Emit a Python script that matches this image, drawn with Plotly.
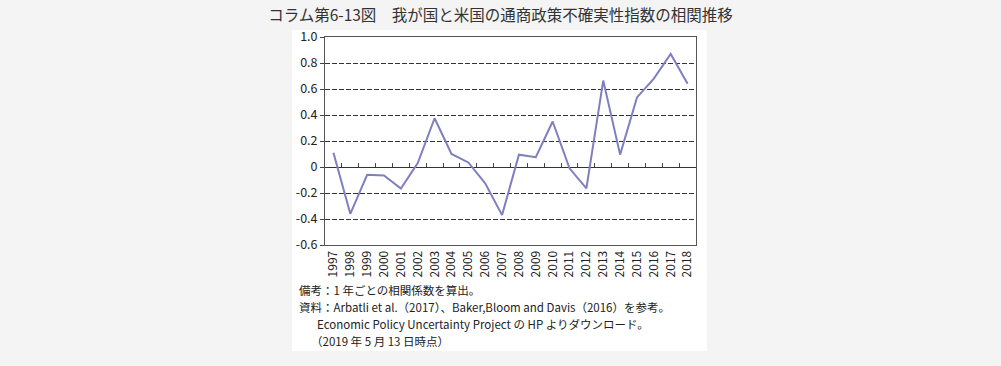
import plotly.graph_objects as go

years = list(range(1997, 2019))
correlation = [0.11, -0.36, -0.06, -0.065, -0.165, 0.03, 0.375, 0.10, 0.035, -0.125,
               -0.37, 0.095, 0.075, 0.35, -0.01, -0.165, 0.665, 0.095, 0.535, 0.68,
               0.87, 0.64]
y_ticks = [1.0, 0.8, 0.6, 0.4, 0.2, 0, -0.2, -0.4, -0.6]
y_tick_text = ["1.0", "0.8", "0.6", "0.4", "0.2", "0", "-0.2", "-0.4", "-0.6"]
title = "コラム第6-13図　我が国と米国の通商政策不確実性指数の相関推移"
notes = [
    "備考：1 年ごとの相関係数を算出。",
    "資料：Arbatli et al.（2017）、Baker,Bloom and Davis（2016）を参考。",
    "Economic Policy Uncertainty Project の HP よりダウンロード。",
    "（2019 年 5 月 13 日時点）",
]

FONT = "Noto Sans CJK JP"
W, H = 1001, 366
L, R, T, B = 325, 696, 37, 245

fig = go.Figure()
fig.add_trace(go.Scatter(x=years, y=correlation, mode="lines",
                         line=dict(color="#7f7fc0", width=2), hoverinfo="skip",
                         showlegend=False))
# invisible trace to materialise the tick axis on the zero line
fig.add_trace(go.Scatter(x=years, y=correlation, mode="lines", xaxis="x2",
                         line=dict(width=0), opacity=0, hoverinfo="skip",
                         showlegend=False))

pw, ph = R - L, B - T
def px(x):
    return (x - L) / pw
def py(y):
    return (B - y) / ph

fig.add_shape(type="rect", xref="paper", yref="paper",
              x0=px(292), x1=px(707), y0=py(351), y1=py(30),
              fillcolor="white", line=dict(width=0), layer="below")

fig.update_layout(
    width=W, height=H,
    margin=dict(l=L, r=W - R, t=T, b=H - B, pad=0),
    paper_bgcolor="#f4f4f4", plot_bgcolor="white",
    font=dict(family=FONT, color="#222", size=12),
    title=dict(text=title, x=0.5, xref="container", xanchor="center",
               y=1 - 16 / H, yanchor="middle",
               font=dict(family=FONT, size=15.5, color="#333")),
    xaxis=dict(range=[1996.5, 2018.5], tickmode="array", tickvals=years,
               ticktext=[str(y) for y in years], tickangle=-90,
               showgrid=False, zeroline=False, ticks="",
               showline=True, mirror=True, linecolor="#555", linewidth=1,
               tickfont=dict(size=12, color="#222", family=FONT)),
    xaxis2=dict(range=[1996.5, 2018.5], overlaying="x", anchor="free",
                position=0.6 / 1.6, side="bottom", tickmode="array",
                tickvals=[y + 0.5 for y in years[:-1]], ticks="inside",
                ticklen=4, tickcolor="#444", tickwidth=1,
                showticklabels=False, showgrid=False, zeroline=False,
                showline=False),
    yaxis=dict(range=[-0.6, 1.0], tickmode="array", tickvals=y_ticks,
               ticktext=y_tick_text, showgrid=True, gridcolor="#333",
               griddash="5px,2px", gridwidth=1,
               zeroline=True, zerolinecolor="#333", zerolinewidth=1,
               showline=True, mirror=True, linecolor="#555", linewidth=1,
               ticks="outside", ticklen=4, tickcolor="#444",
               tickfont=dict(size=12.5, color="#222", family=FONT)),
)

note_x = [297, 297, 315, 309]
note_y = [289.5, 306.5, 323.5, 340.5]
for txt, xx, yy in zip(notes, note_x, note_y):
    fig.add_annotation(text=txt, xref="paper", yref="paper", x=px(xx), y=py(yy),
                       xanchor="left", yanchor="middle", showarrow=False,
                       font=dict(size=11.5, color="#222", family=FONT))

fig.write_html(
    "out.html",
    config={"displayModeBar": False},
    post_script="document.body.style.margin='0';"
                "document.body.style.background='#f4f4f4';"
                "document.body.style.overflow='hidden';",
)
